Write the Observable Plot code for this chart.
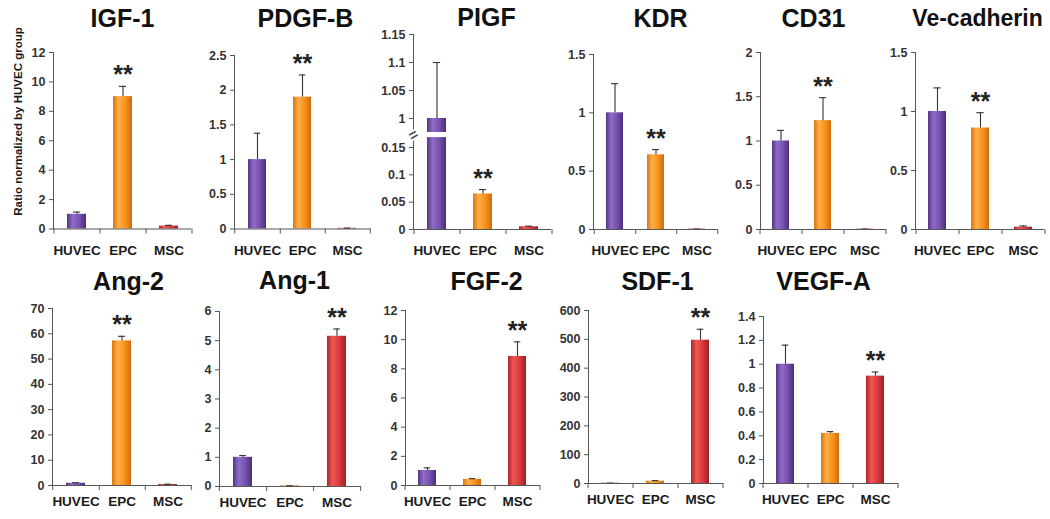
<!DOCTYPE html>
<html><head><meta charset="utf-8">
<script src="https://cdn.jsdelivr.net/npm/d3@7"></script>
<script src="https://cdn.jsdelivr.net/npm/@observablehq/plot@0.6"></script>
<style>
html,body{margin:0;padding:0;background:#fff;}
#chart{position:relative;width:1050px;height:519px;overflow:hidden;background:#fff;font-family:Arial,"Liberation Sans",sans-serif;}
#chart svg.panel{position:absolute;top:0;}
</style></head><body>
<svg width="0" height="0" style="position:absolute">
<defs>
 <linearGradient id="g-HUVEC" x1="0" x2="1" y1="0" y2="0">
  <stop offset="0%" stop-color="#553585"/><stop offset="30%" stop-color="#8f6cc8"/><stop offset="65%" stop-color="#7652ad"/><stop offset="100%" stop-color="#4a2d7a"/>
 </linearGradient>
 <linearGradient id="g-EPC" x1="0" x2="1" y1="0" y2="0">
  <stop offset="0%" stop-color="#dc740c"/><stop offset="30%" stop-color="#ffae48"/><stop offset="65%" stop-color="#f7931e"/><stop offset="100%" stop-color="#d06a0a"/>
 </linearGradient>
 <linearGradient id="g-MSC" x1="0" x2="1" y1="0" y2="0">
  <stop offset="0%" stop-color="#b1262a"/><stop offset="30%" stop-color="#ee5754"/><stop offset="65%" stop-color="#d83a3b"/><stop offset="100%" stop-color="#9c2024"/>
 </linearGradient>
</defs></svg>
<div id="chart"></div>
<script>
// ---------- data ----------
const groups = ["HUVEC", "EPC", "MSC"];
const genes = ["IGF-1", "PDGF-B", "PIGF", "KDR", "CD31", "Ve-cadherin", "Ang-2", "Ang-1", "FGF-2", "SDF-1", "VEGF-A"];
const huvecMean = [1.0, 1.0, 1.0, 1.0, 1.0, 1.0, 0.9, 1.0, 1.03, 1.0, 1.0];
const huvecErr  = [0.15, 0.38, 0.1, 0.25, 0.12, 0.2, 0.2, 0.06, 0.18, 0.3, 0.16];
const epcMean   = [9.0, 1.9, 0.065, 0.64, 1.23, 0.86, 57.2, 0.02, 0.42, 8, 0.42];
const epcErr    = [0.7, 0.32, 0.008, 0.045, 0.26, 0.13, 1.8, 0.005, 0.05, 2, 0.015];
const mscMean   = [0.2, 0.01, 0.005, 0.003, 0.004, 0.02, 0.4, 5.15, 8.85, 497, 0.9];
const mscErr    = [0.05, 0.003, 0.001, 0.001, 0.001, 0.01, 0.1, 0.25, 1.0, 38, 0.035];
const sigGroup  = ["EPC", "EPC", "EPC", "EPC", "EPC", "EPC", "EPC", "MSC", "MSC", "MSC", "MSC"];
const yMax = [12, 2.5, 1.15, 1.5, 2, 1.5, 70, 6, 12, 600, 1.4];
const yTicks = [
  [0, 2, 4, 6, 8, 10, 12],
  [0, 0.5, 1, 1.5, 2, 2.5],
  [0, 0.05, 0.1, 0.15, 1, 1.05, 1.1, 1.15],
  [0, 0.5, 1, 1.5],
  [0, 0.5, 1, 1.5, 2],
  [0, 0.5, 1, 1.5],
  [0, 10, 20, 30, 40, 50, 60, 70],
  [0, 1, 2, 3, 4, 5, 6],
  [0, 2, 4, 6, 8, 10, 12],
  [0, 100, 200, 300, 400, 500, 600],
  [0, 0.2, 0.4, 0.6, 0.8, 1, 1.2, 1.4]
];
const yLabel = "Ratio normalized by HUVEC group";
// PIGF broken axis: piecewise domain, and the blank gap drawn at the break
const pigfDomain = [0, 0.15, 1, 1.15];
const pigfGap = [0.44, 0.59];

// ---------- layout (pixels) ----------
const layout = [
  {ax: 53,  step: 46,   top: 52,  base: 228.5, tx: 122, ty: 26,  pad: 16},
  {ax: 234, step: 45.5, top: 55,  base: 228.5, tx: 305, ty: 26,  pad: 16},
  {ax: 413, step: 46,   top: 34,  base: 229,   tx: 486, ty: 25,  pad: 16, range: [229, 147, 118, 34]},
  {ax: 593, step: 41.5, top: 54,  base: 229,   tx: 660, ty: 26,  pad: 16},
  {ax: 760, step: 42,   top: 52,  base: 229,   tx: 813, ty: 26,  pad: 16},
  {ax: 915, step: 43,   top: 52,  base: 229,   tx: 977, ty: 25,  pad: 16, titleSize: 23},
  {ax: 52,  step: 46.5, top: 308, base: 485,   tx: 128, ty: 289, pad: 11},
  {ax: 219, step: 47.3, top: 311, base: 486,   tx: 294, ty: 289, pad: 11},
  {ax: 405, step: 45,   top: 310, base: 485,   tx: 486, ty: 289, pad: 11},
  {ax: 588, step: 45,   top: 310, base: 483,   tx: 657, ty: 289, pad: 11},
  {ax: 763, step: 45,   top: 316, base: 483,   tx: 823, ty: 289, pad: 11}
];

const H = 519;
const means = [huvecMean, epcMean, mscMean];
const errs = [huvecErr, epcErr, mscErr];
const pIn = 0.59;
const chart = document.getElementById("chart");
const fmt = d3.format("~g");
const axisColor = "#555";

genes.forEach((gene, i) => {
  const L = layout[i];
  const ml = i === 0 ? L.ax : 50;
  const mr = 6;
  const W = ml + 3 * L.step + mr;
  const bw = L.step * (1 - pIn);
  const capInset = Math.max(0, (bw - 7) / 2);
  const rows = groups.map((g, j) => ({group: g, mean: means[j][i], err: errs[j][i]}));
  const isPigf = gene === "PIGF";

  const marks = [
    Plot.barY(rows, {x: "group", y1: 0, y2: "mean", fill: "group"}),
  ];
  if (isPigf) {
    marks.push(Plot.barY([groups[0]], {x: d => d, y1: pigfGap[0], y2: pigfGap[1], fill: "white", insetLeft: -1, insetRight: -1}));
  }
  marks.push(
    Plot.ruleX(rows, {x: "group", y1: "mean", y2: d => d.mean + d.err, stroke: "#333", strokeWidth: 1.1}),
    Plot.tickY(rows, {x: "group", y: d => d.mean + d.err, stroke: "#333", strokeWidth: 1.1, insetLeft: capInset, insetRight: capInset}),
    Plot.text(rows.filter(d => d.group === sigGroup[i]), {x: "group", y: d => d.mean + d.err, text: () => "**", dy: -11, fontSize: 25, fontWeight: "bold", fill: "#222"}),
    Plot.ruleY([0], {stroke: axisColor, strokeWidth: 1}),
    Plot.frame({anchor: "left", stroke: axisColor, strokeWidth: 1}),
    Plot.axisY({ticks: yTicks[i], tickSize: 4, tickPadding: 4, tickFormat: fmt, fontSize: 12.5, fontWeight: "bold", stroke: axisColor, fill: "#333", label: null}),
    Plot.axisX({tickSize: 0, tickPadding: L.pad, fontSize: 13.5, fontWeight: "bold", fill: "#1a1a1a", label: null}),
    Plot.axisX({ticks: groups, tickSize: 5, tickFormat: () => "", dx: L.step / 2, stroke: axisColor, label: null}),
    Plot.axisX({ticks: [groups[0]], tickSize: 5, tickFormat: () => "", dx: -L.step / 2, stroke: axisColor, label: null}),
    Plot.text([gene], {text: d => d, frameAnchor: "top-left", dx: L.tx - L.ax, dy: L.ty - L.top, textAnchor: "middle", lineAnchor: "bottom", fontSize: L.titleSize || 25, fontWeight: "bold", fill: "#111"})
  );
  if (isPigf) {
    marks.push(Plot.text(["="], {text: d => d, frameAnchor: "left", textAnchor: "middle", y: (pigfGap[0] + pigfGap[1]) / 2, rotate: -30, fontSize: 15, fontWeight: "bold", fill: "#444", stroke: "white", strokeWidth: 4, paintOrder: "stroke"}));
  }
  if (i === 0) {
    marks.push(Plot.text([yLabel], {text: d => d, frameAnchor: "left", textAnchor: "middle", rotate: -90, dx: -35, dy: 121 - (L.top + L.base) / 2, fontSize: 11.5, fontWeight: "bold", fill: "#1a1a1a"}));
  }

  const svg = Plot.plot({
    width: W,
    height: H,
    marginLeft: ml,
    marginRight: mr,
    marginTop: L.top,
    marginBottom: H - L.base,
    style: {background: "transparent", overflow: "visible", fontFamily: "Arial, 'Liberation Sans', sans-serif", maxWidth: "none"},
    x: {domain: groups, paddingInner: pIn, paddingOuter: pIn / 2},
    y: isPigf ? {type: "linear", domain: pigfDomain, range: L.range} : {domain: [0, yMax[i]], range: [L.base, L.top]},
    color: {domain: groups, range: groups.map(g => `url(#g-${g})`)},
    marks
  });
  svg.classList.add("panel");
  svg.style.left = (L.ax - ml) + "px";
  chart.appendChild(svg);
});
</script>
</body></html>
